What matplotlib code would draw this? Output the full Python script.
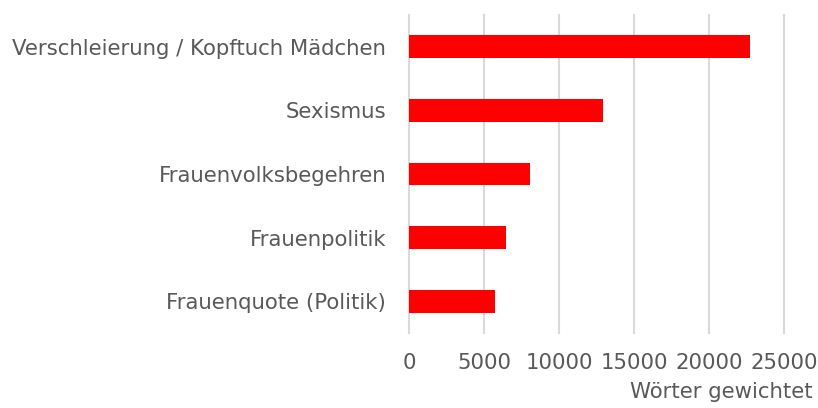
import matplotlib
matplotlib.use("Agg")
import matplotlib.pyplot as plt

categories = ["Verschleierung / Kopftuch Mädchen", "Sexismus", "Frauenvolksbegehren",
              "Frauenpolitik", "Frauenquote (Politik)"]
values = [22700, 12950, 8050, 6450, 5700]
xticks = [0, 5000, 10000, 15000, 20000, 25000]
xlabel = "Wörter gewichtet"

plt.rcParams['font.family'] = ['DejaVu Sans']
txt = '#595959'
fs = 15.3

fig = plt.figure(figsize=(8.18, 4.08), dpi=100)
ax = fig.add_axes([409/818, (408-333)/408, (784-409)/818, (333-15)/408])

ypos = list(range(len(categories)))[::-1]
ax.barh(ypos, values, height=0.36, color='#ff0000', zorder=3)
ax.set_ylim(-0.5, len(categories) - 0.5)
ax.set_xlim(0, 25000)
ax.set_xticks(xticks)
ax.set_xticklabels([str(t) for t in xticks])
ax.set_yticks(ypos)
ax.set_yticklabels(categories)
ax.grid(axis='x', color='#d9d9d9', linewidth=1.5, zorder=0)
for gl in ax.xaxis.get_gridlines():
    gl.set_clip_on(False)
ax.set_axisbelow(True)
for s in ax.spines.values():
    s.set_visible(False)
ax.tick_params(axis='both', length=0, labelsize=fs, labelcolor=txt)
ax.tick_params(axis='x', pad=14.5)
ax.tick_params(axis='y', pad=16.5)

fig.text(813/818, (408-398)/408, xlabel, ha='right', va='baseline', fontsize=fs, color=txt)

fig.savefig("out.png", dpi=100)
